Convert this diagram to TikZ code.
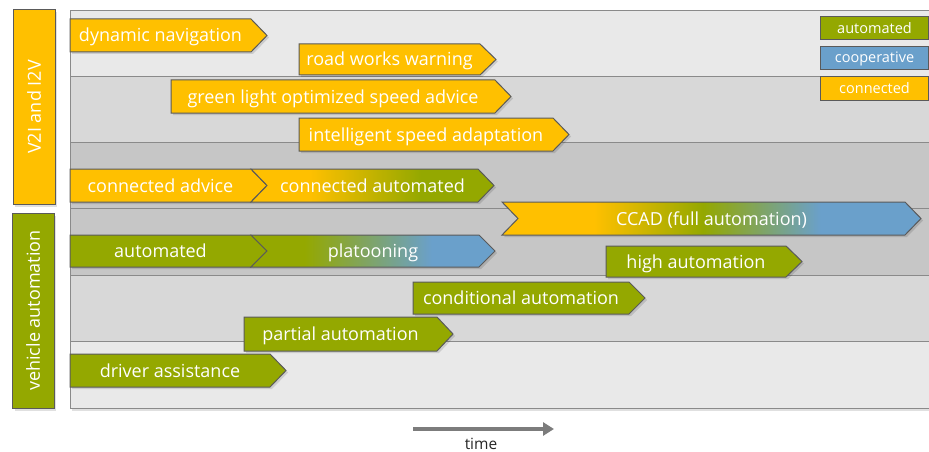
\documentclass[tikz,border=0pt]{standalone}
\usepackage{fontspec}
\setmainfont{Open Sans}
\usetikzlibrary{arrows.meta}

\definecolor{cyel}{HTML}{FFC000}
\definecolor{cgrn}{HTML}{94A800}
\definecolor{cblu}{HTML}{6AA0CB}
\definecolor{edge}{HTML}{5A5A5A}
\definecolor{bandA}{HTML}{E9E9E9}
\definecolor{bandB}{HTML}{D8D8D8}
\definecolor{bandC}{HTML}{C6C6C6}
\definecolor{rule}{HTML}{8A8A8A}

% colour blends for the mixed bars (the path box maps to 25bp..75bp)
\pgfdeclarehorizontalshading{ygshade}{100bp}{color(0bp)=(cyel); color(37bp)=(cyel); color(60bp)=(cgrn); color(100bp)=(cgrn)}
\pgfdeclarehorizontalshading{gbshade}{100bp}{color(0bp)=(cgrn); color(36bp)=(cgrn); color(62bp)=(cblu); color(100bp)=(cblu)}
\pgfdeclarehorizontalshading{ygbshade}{100bp}{color(0bp)=(cyel); color(36bp)=(cyel); color(49bp)=(cgrn); color(63bp)=(cblu); color(100bp)=(cblu)}

\tikzset{
  barlabel/.style={text=white,font=\fontsize{18}{21}\selectfont,inner sep=0pt,anchor=base},
  legendbox/.style={draw=edge,line width=1pt,minimum width=108pt,minimum height=23pt,inner sep=0pt,
                    text=white,font=\fontsize{14.5}{17}\selectfont},
  sidebox/.style={draw=edge,line width=1pt,inner sep=0pt},
  sidelabel/.style={text=white,font=\fontsize{18}{21}\selectfont,rotate=90,inner sep=0pt},
  bandline/.style={draw=rule,line width=0.9pt},
  softshadow/.style={fill=black,opacity=0.12},
  timearrow/.style={draw=rule!90!black,line width=4pt,-{Triangle[length=11pt,width=13pt]}}
}

% #1 name, #2 left x, #3 tip x, #4 top y, #5 bottom y, #6 notch depth, #7 fill, #8 text
\newcommand\timebar[8]{%
  \pgfmathsetmacro\ymid{(#4+#5)/2}%
  \fill[softshadow] ({#2+2},{#4+2}) -- ({#3-14},{#4+2}) -- ({#3+2},{\ymid+2}) -- ({#3-14},{#5+2})
        -- ({#2+2},{#5+2}) -- ({#2+#6+2},{\ymid+2}) -- cycle;
  \path[#7,draw=edge,line width=1pt] (#2,#4) -- ({#3-16},#4) -- (#3,\ymid) -- ({#3-16},#5)
        -- (#2,#5) -- ({#2+#6},\ymid) -- cycle;
  \node[barlabel] (#1) at ({(#2+#6+#3-16)/2},{\ymid+6.5}) {#8};
}

\begin{document}
\begin{tikzpicture}[x=1pt,y=-1pt]
\useasboundingbox (0,0) rectangle (929,452);

% chart shadow and bands
\fill[softshadow] (72,12) rectangle (931,411);
\fill[bandA] (70,10) rectangle (929,76);
\fill[bandB] (70,76) rectangle (929,142);
\fill[bandC] (70,142) rectangle (929,275);
\fill[bandB] (70,275) rectangle (929,341);
\fill[bandA] (70,341) rectangle (929,408);
\foreach \yy in {76,142,208,275,341}
  \draw[bandline] (70,\yy) -- (929,\yy);
\draw[bandline] (929.5,10) -- (70,10) -- (70,408) -- (929.5,408);

% side headings
\fill[softshadow] (14.5,12.5) rectangle (57,206.5);
\fill[softshadow] (14.5,215.5) rectangle (56,410.5);
\node[sidebox,fill=cyel,minimum width=42pt,minimum height=194pt] (v2i) at (34,107) {};
\node[sidelabel] at (v2i) {V2I and I2V};
\node[sidebox,fill=cgrn,minimum width=42pt,minimum height=195pt] (veh) at (33,310.5) {};
\node[sidelabel] at (veh) {vehicle automation};

% legend
\node[legendbox,fill=cgrn] (lgA) at (874.5,28.5) {automated};
\node[legendbox,fill=cblu] (lgB) at (874.5,58.5) {cooperative};
\node[legendbox,fill=cyel] (lgC) at (874.5,88.5) {connected};

% connected services
\timebar{dyn}{70}{267}{19}{52}{0}{fill=cyel}{dynamic navigation}
\timebar{rww}{299}{496}{44}{75}{0}{fill=cyel}{road works warning}
\timebar{glo}{171}{511}{80}{113}{0}{fill=cyel}{green light optimized speed advice}
\timebar{isa}{299}{569}{118}{151}{0}{fill=cyel}{intelligent speed adaptation}
\timebar{cad}{70}{267}{169}{202}{0}{fill=cyel}{connected advice}
\timebar{caut}{251}{494}{169}{202}{16}{shading=ygshade}{connected automated}

% cooperative / automated services
\timebar{ccad}{502}{921}{202}{235}{16}{shading=ygbshade}{CCAD (full automation)}
\timebar{aut}{70}{267}{235}{267}{0}{fill=cgrn}{automated}
\timebar{plat}{251}{495}{235}{267}{16}{shading=gbshade}{platooning}
\timebar{high}{606}{802}{246}{277}{0}{fill=cgrn}{high automation}
\timebar{cond}{413}{645}{282}{314}{0}{fill=cgrn}{conditional automation}
\timebar{part}{244}{453}{317}{351}{0}{fill=cgrn}{partial automation}
\timebar{drv}{70}{286}{354}{387}{0}{fill=cgrn}{driver assistance}

% time axis
\coordinate (t0) at (413,429);
\coordinate (t1) at (554,429);
\draw[timearrow] (t0) -- (t1);
\node[text=black!85,font=\fontsize{15.5}{18}\selectfont,inner sep=0pt] (time) at (481,444) {time};
\end{tikzpicture}
\end{document}
